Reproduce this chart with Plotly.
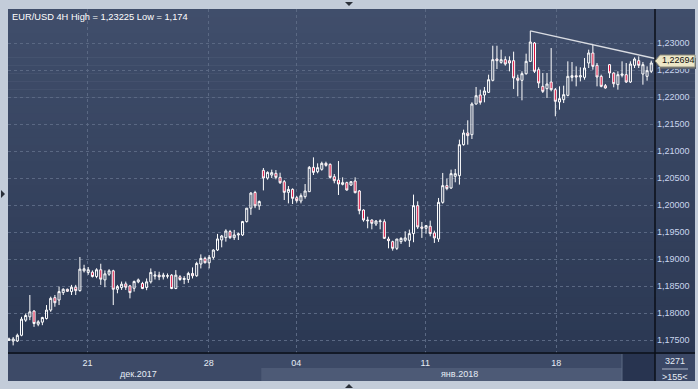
import plotly.graph_objects as go

# ---------------- data (EUR/USD 4H candles) ----------------
opens = [1.17495, 1.17482, 1.17482, 1.17588, 1.17868, 1.1793, 1.18036, 1.17793, 1.17831, 1.17899,
         1.18055, 1.18285, 1.18241, 1.18378, 1.1844, 1.18397, 1.18478, 1.18415, 1.18782, 1.18751,
         1.18757, 1.18677, 1.18801, 1.18614, 1.1872, 1.18782, 1.1844, 1.18471, 1.1854, 1.18502,
         1.18459, 1.18577, 1.18547, 1.18473, 1.18578, 1.18683, 1.18702, 1.18671, 1.18683, 1.18702,
         1.18454, 1.18671, 1.18621, 1.18621, 1.18733, 1.1869, 1.18907, 1.19012, 1.18931, 1.19031,
         1.19167, 1.19353, 1.19396, 1.19508, 1.19396, 1.19446, 1.19446, 1.19694, 1.19942, 1.20233,
         1.19985, 1.20643, 1.205, 1.20555, 1.20587, 1.20513, 1.20432, 1.20235, 1.2029, 1.20136,
         1.20075, 1.20155, 1.20247, 1.20698, 1.20617, 1.20661, 1.20772, 1.20753, 1.20525, 1.20463,
         1.20383, 1.20414, 1.20371, 1.20445, 1.2026, 1.19908, 1.19723, 1.19723, 1.19649, 1.19692,
         1.19692, 1.19371, 1.19322, 1.19198, 1.19322, 1.19347, 1.19347, 1.19471, 1.19989, 1.19594,
         1.1957, 1.19607, 1.19483, 1.19372, 1.2005, 1.20359, 1.20316, 1.20532, 1.20544, 1.21118,
         1.21334, 1.21303, 1.21871, 1.22037, 1.22037, 1.22087, 1.22309, 1.22704, 1.22642, 1.22692,
         1.22673, 1.22673, 1.22352, 1.22309, 1.22432, 1.22661, 1.23, 1.22506, 1.22198, 1.22155,
         1.22278, 1.22136, 1.21908, 1.21951, 1.22031, 1.22364, 1.22395, 1.22371, 1.22364, 1.2263,
         1.22815, 1.22587, 1.22383, 1.2221, 1.22599, 1.22445, 1.22229, 1.22402, 1.22414, 1.22278,
         1.22587, 1.22673, 1.22426, 1.22383, 1.22476]
highs = [1.17545, 1.17557, 1.17619, 1.1793, 1.17992, 1.18334, 1.18055, 1.17868, 1.1793, 1.18148,
         1.18303, 1.18334, 1.1849, 1.18459, 1.18452, 1.18521, 1.18521, 1.19037, 1.18894, 1.18851,
         1.18789, 1.1883, 1.18913, 1.18789, 1.18813, 1.18801, 1.18521, 1.18583, 1.18583, 1.18521,
         1.18602, 1.18639, 1.18578, 1.1864, 1.18826, 1.18776, 1.18764, 1.18745, 1.18733, 1.18721,
         1.18795, 1.18702, 1.18683, 1.18764, 1.18845, 1.1895, 1.19086, 1.19043, 1.19074, 1.19179,
         1.19465, 1.19446, 1.19551, 1.19539, 1.19539, 1.19489, 1.19706, 1.19942, 1.2024, 1.20264,
         1.20085, 1.20686, 1.20624, 1.20655, 1.20648, 1.20599, 1.20463, 1.20352, 1.20309, 1.20167,
         1.20216, 1.20389, 1.20722, 1.20883, 1.20772, 1.20803, 1.20803, 1.20772, 1.20574, 1.20815,
         1.20513, 1.20432, 1.20445, 1.20513, 1.20278, 1.1992, 1.19784, 1.19735, 1.19723, 1.19735,
         1.19735, 1.19414, 1.1934, 1.19371, 1.19402, 1.19514, 1.19545, 1.20193, 1.20069, 1.19687,
         1.19625, 1.19711, 1.19526, 1.20131, 1.20594, 1.20489, 1.20655, 1.20668, 1.21211, 1.21396,
         1.21569, 1.21902, 1.22186, 1.22136, 1.22186, 1.22414, 1.2295, 1.2295, 1.22877, 1.22753,
         1.22753, 1.2284, 1.22414, 1.22476, 1.22803, 1.23225, 1.23019, 1.2255, 1.22445, 1.22445,
         1.22907, 1.22167, 1.22198, 1.2221, 1.22661, 1.22648, 1.22568, 1.2255, 1.22722, 1.22877,
         1.22969, 1.2263, 1.22414, 1.22241, 1.22611, 1.22457, 1.22476, 1.22661, 1.2263, 1.22661,
         1.22735, 1.22753, 1.22648, 1.22568, 1.22673]
lows = [1.17482, 1.17401, 1.17463, 1.1757, 1.17837, 1.17868, 1.17744, 1.17756, 1.17775, 1.1788,
        1.18023, 1.18117, 1.18148, 1.18334, 1.1839, 1.18334, 1.18334, 1.18397, 1.18751, 1.18708,
        1.18658, 1.18645, 1.18521, 1.18478, 1.18689, 1.18148, 1.18366, 1.18428, 1.18428, 1.18272,
        1.18397, 1.18552, 1.18442, 1.18423, 1.18547, 1.18621, 1.18609, 1.18621, 1.1864, 1.18442,
        1.18442, 1.18597, 1.18535, 1.18559, 1.1864, 1.18671, 1.18826, 1.18919, 1.18826, 1.18993,
        1.19148, 1.19217, 1.19322, 1.19372, 1.19353, 1.19353, 1.19427, 1.19675, 1.19818, 1.19942,
        1.19911, 1.20271, 1.20469, 1.205, 1.20476, 1.20389, 1.20093, 1.20031, 1.20019, 1.20044,
        1.20031, 1.20118, 1.20241, 1.20556, 1.20587, 1.20636, 1.2071, 1.20488, 1.20402, 1.20186,
        1.20364, 1.20266, 1.20352, 1.20216, 1.19828, 1.19692, 1.19569, 1.1955, 1.19612, 1.1955,
        1.19371, 1.19198, 1.19155, 1.19167, 1.19279, 1.19317, 1.19224, 1.19311, 1.19557, 1.19391,
        1.19471, 1.19421, 1.19298, 1.19317, 1.20025, 1.20273, 1.20298, 1.20421, 1.20378, 1.211,
        1.21118, 1.21223, 1.21859, 1.21859, 1.21902, 1.22075, 1.2229, 1.22519, 1.22617, 1.2258,
        1.22476, 1.22149, 1.22013, 1.21939, 1.22414, 1.22648, 1.22445, 1.22167, 1.22074, 1.21982,
        1.22105, 1.21643, 1.21766, 1.21889, 1.22013, 1.2229, 1.22198, 1.2229, 1.22321, 1.22537,
        1.22506, 1.22198, 1.2218, 1.22155, 1.22352, 1.2218, 1.22136, 1.22364, 1.2226, 1.2226,
        1.22537, 1.22537, 1.22229, 1.22303, 1.22445]
closes = [1.1752, 1.1752, 1.17588, 1.17887, 1.17955, 1.18023, 1.17806, 1.17837, 1.17918, 1.18055,
          1.18272, 1.18191, 1.18397, 1.1844, 1.18403, 1.18478, 1.18415, 1.18813, 1.1882, 1.18801,
          1.18677, 1.18801, 1.18627, 1.18726, 1.18782, 1.1844, 1.1849, 1.18534, 1.18478, 1.18378,
          1.18583, 1.18614, 1.18454, 1.18578, 1.18752, 1.18702, 1.18671, 1.18702, 1.1869, 1.18454,
          1.18702, 1.18621, 1.1864, 1.18733, 1.1869, 1.18919, 1.19012, 1.18931, 1.19031, 1.19167,
          1.19372, 1.19427, 1.1952, 1.19396, 1.19446, 1.19465, 1.19694, 1.19942, 1.20221, 1.19985,
          1.20066, 1.205, 1.20605, 1.206, 1.20513, 1.20414, 1.20235, 1.2029, 1.20124, 1.20081,
          1.20173, 1.2026, 1.20698, 1.20605, 1.20692, 1.20772, 1.20735, 1.20513, 1.20451, 1.20389,
          1.20414, 1.20278, 1.20432, 1.20229, 1.19896, 1.19723, 1.1971, 1.19661, 1.19704, 1.19704,
          1.19383, 1.1934, 1.19198, 1.19371, 1.19383, 1.19391, 1.19471, 1.19989, 1.19594, 1.1957,
          1.19619, 1.19471, 1.19391, 1.2005, 1.20359, 1.20304, 1.20581, 1.20581, 1.21118, 1.21334,
          1.21285, 1.21871, 1.22025, 1.21902, 1.22112, 1.22321, 1.22692, 1.22673, 1.22692, 1.22611,
          1.2263, 1.22352, 1.22309, 1.22432, 1.22661, 1.23019, 1.22476, 1.2226, 1.22105, 1.22241,
          1.22136, 1.21921, 1.2197, 1.22044, 1.22383, 1.22395, 1.22371, 1.22395, 1.22537, 1.22815,
          1.22568, 1.22371, 1.22198, 1.22167, 1.22445, 1.22247, 1.22414, 1.22426, 1.22278, 1.22611,
          1.22704, 1.22587, 1.22599, 1.22488, 1.2263]

price_ticks = [1.175, 1.18, 1.185, 1.19, 1.195, 1.20, 1.205, 1.21, 1.215, 1.22, 1.225, 1.23]
week_tick_pos = [18.8, 47.9, 68.9, 99.8, 131.2]
week_tick_text = ["21", "28", "04", "11", "18"]
month_labels = ["дек.2017", "янв.2018"]
jan_start_index = 61            # first candle of January
trend_touch = [125, 140]        # candles whose highs define the resistance line
last_label = "1,22694"
last_value = 1.22694
title_text = "EUR/USD 4H High = 1,23225 Low = 1,174"
counter_top, counter_bottom = "3271", ">155<"

# ---------------- geometry ----------------
W, H = 698, 389
L, R, T, B = 8, 43, 9, 36
PW, PH = W - L - R, H - T - B
XMIN, XMAX = -0.24, 154.9
YMIN, YMAX = 1.1726, 1.2363


def px(xp):
    return (xp - L) / PW


def py(yp):
    return (H - B - yp) / PH


def xd(v):  # data index -> paper
    return (v - XMIN) / (XMAX - XMIN)


FONT = "Liberation Sans, Arial, sans-serif"
idx = list(range(len(opens)))

fig = go.Figure()
fig.add_trace(go.Candlestick(
    x=idx, open=opens, high=highs, low=lows, close=closes,
    increasing=dict(line=dict(color="#ffffff", width=1), fillcolor="rgba(0,0,0,0)"),
    decreasing=dict(line=dict(color="#ffffff", width=1), fillcolor="#dc1440"),
    whiskerwidth=0, hoverinfo="skip", showlegend=False))

# resistance line through two highs, extended to the right edge
i0, i1 = trend_touch
slope = (highs[i1] - highs[i0]) / (i1 - i0)
fig.add_trace(go.Scatter(
    x=[i0, XMAX], y=[highs[i0], highs[i0] + slope * (XMAX - i0)],
    mode="lines", line=dict(color="#d9dce2", width=1.5),
    hoverinfo="skip", showlegend=False, cliponaxis=False))

shapes = []
# gradient panel
top_c = (64, 78, 107)
bot_c = (43, 56, 83)
nb = 43
y0p, y1p = 9, 354
for k in range(nb):
    t = k / (nb - 1)
    c = tuple(round(top_c[j] + (bot_c[j] - top_c[j]) * t) for j in range(3))
    ya = y0p + (y1p - y0p) * k / nb
    yb = y0p + (y1p - y0p) * (k + 1) / nb + 0.6
    shapes.append(dict(type="rect", xref="paper", yref="paper", layer="below",
                       x0=px(8), x1=px(695), y0=py(yb), y1=py(ya),
                       fillcolor="rgb(%d,%d,%d)" % c, line=dict(width=0)))
# bottom axis area
jan_x = xd(jan_start_index - 0.5)
shapes += [
    dict(type="rect", xref="paper", yref="paper", layer="below", x0=px(8), x1=px(695),
         y0=py(381), y1=py(354), fillcolor="#3d4a67", line=dict(width=0)),
    dict(type="rect", xref="paper", yref="paper", layer="below", x0=jan_x, x1=px(622),
         y0=py(381), y1=py(368), fillcolor="#4d5a76", line=dict(width=0)),
    dict(type="rect", xref="paper", yref="paper", layer="below", x0=px(622), x1=px(655),
         y0=py(381), y1=py(354), fillcolor="#283450", line=dict(width=0)),
    dict(type="line", xref="paper", yref="paper", layer="below", x0=px(622), x1=px(622),
         y0=py(381), y1=py(354), line=dict(color="#5d6a84", width=1)),
    dict(type="rect", xref="paper", yref="paper", layer="below", x0=px(655), x1=px(695),
         y0=py(381), y1=py(354), fillcolor="#3a4765", line=dict(width=0)),
    # axis lines
    dict(type="line", xref="paper", yref="paper", x0=1, x1=1, y0=py(381), y1=py(9),
         line=dict(color="#0b0f18", width=1.5)),
    dict(type="line", xref="paper", yref="paper", x0=px(8), x1=px(695), y0=0, y1=0,
         line=dict(color="#0b0f18", width=1.5)),
    dict(type="line", xref="paper", yref="paper", x0=px(662), x1=px(688), y0=py(369), y1=py(369),
         line=dict(color="#aab4c6", width=1)),
]


def poly(pts):
    return "M " + " L ".join("%f,%f" % (px(a), py(b)) for a, b in pts) + " Z"


# last value label with shadow
shapes.append(dict(type="path", xref="paper", yref="paper",
                   path=poly([(657, 63), (661, 58), (696, 58), (696, 69), (661, 69)]),
                   fillcolor="#5b616d", line=dict(width=0)))
shapes.append(dict(type="path", xref="paper", yref="paper",
                   path=poly([(655, 61), (660, 55), (695, 55), (695, 67), (660, 67)]),
                   fillcolor="#ece6c7", line=dict(color="#8c8a78", width=1)))
# small navigation triangles
shapes.append(dict(type="path", xref="paper", yref="paper",
                   path=poly([(345, 2), (353, 2), (349, 6)]), fillcolor="#2a2f38", line=dict(width=0)))
shapes.append(dict(type="path", xref="paper", yref="paper",
                   path=poly([(345, 388), (353, 388), (349, 384)]), fillcolor="#2a2f38", line=dict(width=0)))
shapes.append(dict(type="path", xref="paper", yref="paper",
                   path=poly([(1, 190), (1, 198), (5, 194)]), fillcolor="#2a2f38", line=dict(width=0)))

annotations = [
    dict(text=title_text, xref="paper", yref="paper", x=px(10), y=py(17), xanchor="left",
         yanchor="middle", showarrow=False, font=dict(family=FONT, size=9.3, color="#ffffff")),
    dict(text=month_labels[0], xref="paper", yref="paper", x=px(138), y=py(374), xanchor="center",
         yanchor="middle", showarrow=False, font=dict(family=FONT, size=9, color="#e6ecf5")),
    dict(text=month_labels[1], xref="paper", yref="paper", x=px(460), y=py(374), xanchor="center",
         yanchor="middle", showarrow=False, font=dict(family=FONT, size=9, color="#e6ecf5")),
    dict(text=counter_top, xref="paper", yref="paper", x=px(675), y=py(361), xanchor="center",
         yanchor="middle", showarrow=False, font=dict(family=FONT, size=9, color="#e6ecf5")),
    dict(text=counter_bottom, xref="paper", yref="paper", x=px(675), y=py(376.5), xanchor="center",
         yanchor="middle", showarrow=False, font=dict(family=FONT, size=9, color="#e6ecf5")),
    dict(text=last_label, xref="paper", yref="y", x=px(660), y=last_value, xanchor="left",
         yanchor="middle", showarrow=False, font=dict(family=FONT, size=9, color="#111111")),
]

fig.update_layout(
    width=W, height=H, margin=dict(l=L, r=R, t=T, b=B, pad=0),
    paper_bgcolor="#c3ccd9", plot_bgcolor="rgba(0,0,0,0)",
    separators=", ", showlegend=False, shapes=shapes, annotations=annotations,
    xaxis=dict(range=[XMIN, XMAX], tickmode="array", tickvals=week_tick_pos, ticktext=week_tick_text,
               showgrid=True, gridcolor="#5a6883", griddash="3px,3px", gridwidth=1,
               zeroline=False, showline=False, ticks="", rangeslider=dict(visible=False),
               ticklabelstandoff=3,
               tickfont=dict(family=FONT, size=9, color="#e6ecf5"), fixedrange=True),
    yaxis=dict(range=[YMIN, YMAX], side="right", tickmode="array", tickvals=price_ticks,
               tickformat=".5f",
               showgrid=True, gridcolor="#5a6883", griddash="3px,3px", gridwidth=1,
               zeroline=False, showline=False, ticks="", ticklabelstandoff=1,
               tickfont=dict(family=FONT, size=9, color="#c9d6ee"), fixedrange=True),
)

fig.write_html("out.html")
